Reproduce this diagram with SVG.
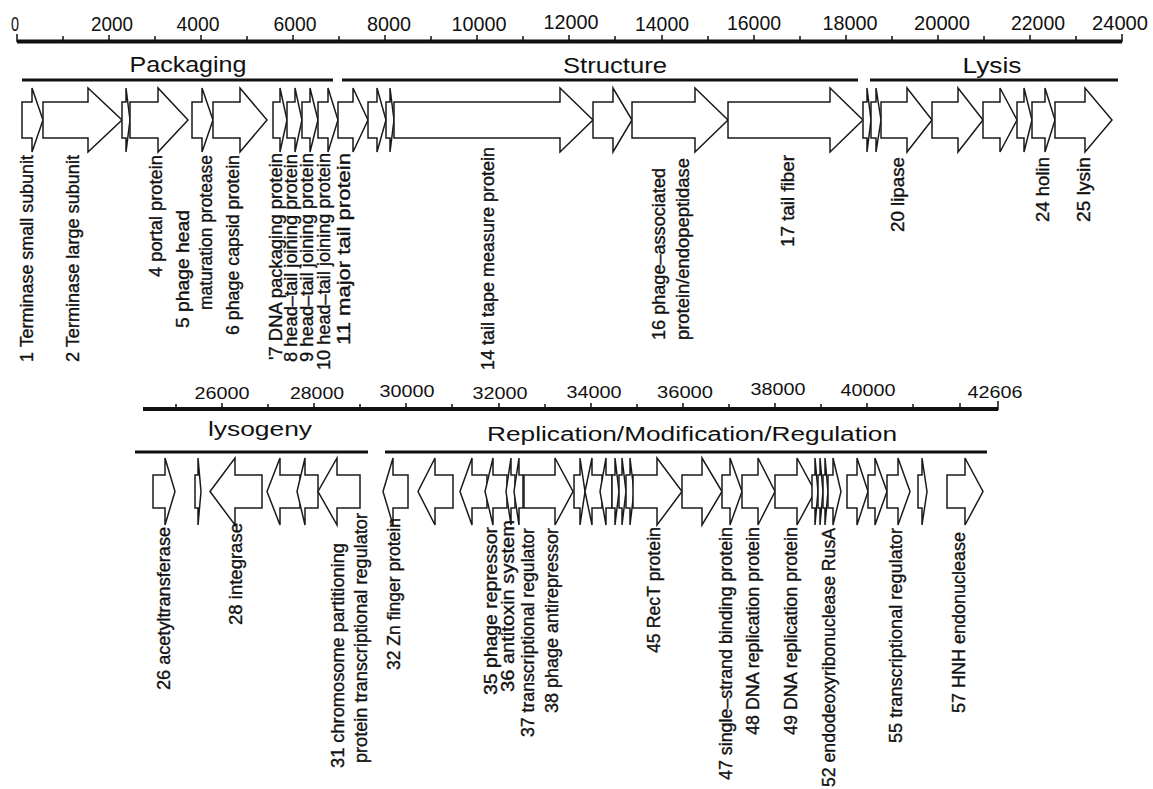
<svg xmlns="http://www.w3.org/2000/svg" width="1153" height="789" viewBox="0 0 1153 789">
<style>
.bg{fill:#fff}
.ax{stroke:#111;stroke-width:4;fill:none}
.tk{stroke:#111;stroke-width:1.5;fill:none}
.cat{stroke:#111;stroke-width:3;fill:none}
.gene{fill:#fff;stroke:#1a1a1a;stroke-width:1.5;stroke-linejoin:miter}
.num{font-family:"Liberation Sans",Arial,sans-serif;font-size:20px;fill:#111;text-anchor:middle}
.num2{font-family:"Liberation Sans",Arial,sans-serif;font-size:17px;fill:#111;text-anchor:middle}
.ct{font-family:"Liberation Sans",Arial,sans-serif;font-size:22px;fill:#111;text-anchor:middle}
.lb{font-family:"Liberation Sans",Arial,sans-serif;font-size:18px;fill:#111;stroke:#111;stroke-width:0.35}
</style>
<rect class="bg" width="1153" height="789"/>
<g id="ruler-top">
<path class="ax" d="M17,41.5 H1122"/>
<path class="tk" d="M17,34 V42 M63,36 V41 M109,35 V41 M155,36 V41 M201,35 V41 M247,36 V41 M293,35 V41 M339,36 V41 M385,35 V41 M431,36 V41 M477,35 V41 M523,36 V41 M569,35 V41 M615,36 V41 M662,35 V41 M708,36 V41 M754,35 V41 M800,36 V41 M846,35 V41 M892,36 V41 M938,35 V41 M984,36 V41 M1030,35 V41 M1076,36 V41 M1122,34 V42"/>
<text class="num" x="15" y="31" textLength="8" lengthAdjust="spacingAndGlyphs">0</text>
<text class="num" x="112" y="31" textLength="42" lengthAdjust="spacingAndGlyphs">2000</text>
<text class="num" x="198" y="31" textLength="43" lengthAdjust="spacingAndGlyphs">4000</text>
<text class="num" x="295" y="31" textLength="43" lengthAdjust="spacingAndGlyphs">6000</text>
<text class="num" x="389" y="31" textLength="44" lengthAdjust="spacingAndGlyphs">8000</text>
<text class="num" x="479" y="31" textLength="55" lengthAdjust="spacingAndGlyphs">10000</text>
<text class="num" x="571" y="29" textLength="55" lengthAdjust="spacingAndGlyphs">12000</text>
<text class="num" x="662" y="31" textLength="54" lengthAdjust="spacingAndGlyphs">14000</text>
<text class="num" x="754" y="30" textLength="54" lengthAdjust="spacingAndGlyphs">16000</text>
<text class="num" x="850" y="30" textLength="55" lengthAdjust="spacingAndGlyphs">18000</text>
<text class="num" x="942" y="30" textLength="56" lengthAdjust="spacingAndGlyphs">20000</text>
<text class="num" x="1038" y="30" textLength="54" lengthAdjust="spacingAndGlyphs">22000</text>
<text class="num" x="1120" y="30" textLength="56" lengthAdjust="spacingAndGlyphs">24000</text>
</g>
<g id="categories-top">
<path class="cat" d="M22,80 H333 M342,80 H858 M870,80 H1118"/>
<text class="ct" x="188" y="72" textLength="117" lengthAdjust="spacingAndGlyphs">Packaging</text>
<text class="ct" x="615" y="73" textLength="104" lengthAdjust="spacingAndGlyphs">Structure</text>
<text class="ct" x="992" y="73" textLength="59" lengthAdjust="spacingAndGlyphs">Lysis</text>
</g>
<g id="gene1"><path class="gene" d="M22,102 H32 V88 L43,120 L32,152 V138 H22 Z"/><text class="lb" transform="translate(33,362) rotate(-90)" textLength="207" lengthAdjust="spacingAndGlyphs">1 Terminase small subunit</text></g>
<g id="gene2"><path class="gene" d="M43,102 H88 V88 L122,120 L88,152 V138 H43 Z"/><text class="lb" transform="translate(78.5,362) rotate(-90)" textLength="207" lengthAdjust="spacingAndGlyphs">2 Terminase large subunit</text></g>
<g id="gene3"><path class="gene" d="M122,102 H126 V88 L130,120 L126,152 V138 H122 Z"/></g>
<g id="gene4"><path class="gene" d="M130,102 H158 V88 L188,120 L158,152 V138 H130 Z"/><text class="lb" transform="translate(162,277) rotate(-90)" textLength="122" lengthAdjust="spacingAndGlyphs">4 portal protein</text></g>
<g id="gene5"><path class="gene" d="M192,102 H202 V88 L213,120 L202,152 V138 H192 Z"/><text class="lb" transform="translate(188.5,328) rotate(-90)" textLength="118" lengthAdjust="spacingAndGlyphs">5 phage head</text><text class="lb" transform="translate(211.5,310) rotate(-90)" textLength="155" lengthAdjust="spacingAndGlyphs">maturation protease</text></g>
<g id="gene6"><path class="gene" d="M213,102 H240 V88 L267,120 L240,152 V138 H213 Z"/><text class="lb" transform="translate(238.5,335) rotate(-90)" textLength="180" lengthAdjust="spacingAndGlyphs">6 phage capsid protein</text></g>
<g id="gene7"><path class="gene" d="M273,102 H280 V88 L287,120 L280,152 V138 H273 Z"/><text class="lb" transform="translate(281.5,360) rotate(-90)" textLength="207" lengthAdjust="spacingAndGlyphs">'7 DNA packaging protein</text></g>
<g id="gene8"><path class="gene" d="M287,102 H295 V88 L302,120 L295,152 V138 H287 Z"/><text class="lb" transform="translate(296.5,362) rotate(-90)" textLength="208" lengthAdjust="spacingAndGlyphs">8 head–tail joining protein</text></g>
<g id="gene9"><path class="gene" d="M302,102 H310 V88 L318,120 L310,152 V138 H302 Z"/><text class="lb" transform="translate(313,362) rotate(-90)" textLength="209" lengthAdjust="spacingAndGlyphs">9 head–tail joining protein</text></g>
<g id="gene10"><path class="gene" d="M318,102 H328 V88 L338,120 L328,152 V138 H318 Z"/><text class="lb" transform="translate(329.5,370) rotate(-90)" textLength="217" lengthAdjust="spacingAndGlyphs">10 head–tail joining protein</text></g>
<g id="gene11"><path class="gene" d="M338,102 H353 V88 L368,120 L353,152 V138 H338 Z"/><text class="lb" transform="translate(349.5,345) rotate(-90)" textLength="192" lengthAdjust="spacingAndGlyphs">11 major tail protein</text></g>
<g id="gene12"><path class="gene" d="M368,102 H377 V88 L386,120 L377,152 V138 H368 Z"/></g>
<g id="gene13"><path class="gene" d="M386,102 H390 V88 L394,120 L390,152 V138 H386 Z"/></g>
<g id="gene14"><path class="gene" d="M394,102 H560 V88 L593,120 L560,152 V138 H394 Z"/><text class="lb" transform="translate(493.5,370) rotate(-90)" textLength="223" lengthAdjust="spacingAndGlyphs">14 tail tape measure protein</text></g>
<g id="gene15"><path class="gene" d="M593,102 H613 V88 L632,120 L613,152 V138 H593 Z"/></g>
<g id="gene16"><path class="gene" d="M632,102 H695 V88 L728,120 L695,152 V138 H632 Z"/><text class="lb" transform="translate(664.5,340) rotate(-90)" textLength="172" lengthAdjust="spacingAndGlyphs">16 phage–associated</text><text class="lb" transform="translate(688.5,340) rotate(-90)" textLength="182" lengthAdjust="spacingAndGlyphs">protein/endopeptidase</text></g>
<g id="gene17"><path class="gene" d="M728,102 H830 V88 L863,120 L830,152 V138 H728 Z"/><text class="lb" transform="translate(794,247) rotate(-90)" textLength="92" lengthAdjust="spacingAndGlyphs">17 tail fiber</text></g>
<g id="gene18"><path class="gene" d="M863,102 H867 V88 L871,120 L867,152 V138 H863 Z"/></g>
<g id="gene19"><path class="gene" d="M871,102 H876 V88 L881,120 L876,152 V138 H871 Z"/></g>
<g id="gene20"><path class="gene" d="M881,102 H907 V88 L932,120 L907,152 V138 H881 Z"/><text class="lb" transform="translate(903.5,232) rotate(-90)" textLength="75" lengthAdjust="spacingAndGlyphs">20 lipase</text></g>
<g id="gene21"><path class="gene" d="M932,102 H958 V88 L983,120 L958,152 V138 H932 Z"/></g>
<g id="gene22"><path class="gene" d="M983,102 H1000 V88 L1017,120 L1000,152 V138 H983 Z"/></g>
<g id="gene23"><path class="gene" d="M1017,102 H1024 V88 L1032,120 L1024,152 V138 H1017 Z"/></g>
<g id="gene24"><path class="gene" d="M1032,102 H1045 V88 L1055,120 L1045,152 V138 H1032 Z"/><text class="lb" transform="translate(1049,222) rotate(-90)" textLength="65" lengthAdjust="spacingAndGlyphs">24 holin</text></g>
<g id="gene25"><path class="gene" d="M1055,102 H1085 V88 L1112,120 L1085,152 V138 H1055 Z"/><text class="lb" transform="translate(1089.5,222) rotate(-90)" textLength="65" lengthAdjust="spacingAndGlyphs">25 lysin</text></g>
<g id="ruler-bottom">
<path class="ax" d="M143,409 H998"/>
<path class="tk" d="M176,404 V409 M222,403 V409 M268,404 V409 M314,403 V409 M360,404 V409 M406,403 V409 M452,404 V409 M499,403 V409 M545,404 V409 M591,403 V409 M637,404 V409 M683,403 V409 M729,404 V409 M775,403 V409 M821,404 V409 M867,403 V409 M913,404 V409 M960,403 V409 M998,401 V410"/>
<text class="num2" x="222" y="399" textLength="55" lengthAdjust="spacingAndGlyphs">26000</text>
<text class="num2" x="317" y="399" textLength="54" lengthAdjust="spacingAndGlyphs">28000</text>
<text class="num2" x="407" y="397" textLength="55" lengthAdjust="spacingAndGlyphs">30000</text>
<text class="num2" x="500" y="399" textLength="55" lengthAdjust="spacingAndGlyphs">32000</text>
<text class="num2" x="594" y="398" textLength="55" lengthAdjust="spacingAndGlyphs">34000</text>
<text class="num2" x="685" y="398" textLength="56" lengthAdjust="spacingAndGlyphs">36000</text>
<text class="num2" x="778" y="395" textLength="55" lengthAdjust="spacingAndGlyphs">38000</text>
<text class="num2" x="868" y="396" textLength="55" lengthAdjust="spacingAndGlyphs">40000</text>
<text class="num2" x="995" y="398" textLength="55" lengthAdjust="spacingAndGlyphs">42606</text>
</g>
<g id="categories-bottom">
<path class="cat" d="M135,452 H368 M385,452 H987"/>
<text class="ct" style="font-size:20px" x="260" y="436" textLength="104" lengthAdjust="spacingAndGlyphs">lysogeny</text>
<text class="ct" style="font-size:20px;text-anchor:start" x="487" y="441" textLength="410" lengthAdjust="spacingAndGlyphs">Replication/Modification/Regulation</text>
</g>
<g id="gene26"><path class="gene" d="M153,475 H165 V458 L175,491.5 L165,525 V508 H153 Z"/><text class="lb" transform="translate(169.5,690) rotate(-90)" textLength="163" lengthAdjust="spacingAndGlyphs">26 acetyltransferase</text></g>
<g id="gene27"><path class="gene" d="M195,475 H198 V458 L201,491.5 L198,525 V508 H195 Z"/></g>
<g id="gene28"><path class="gene" d="M262,475 H235 V458 L210,491.5 L235,525 V508 H262 Z"/><text class="lb" transform="translate(241.5,625) rotate(-90)" textLength="102" lengthAdjust="spacingAndGlyphs">28 integrase</text></g>
<g id="gene29"><path class="gene" d="M300,475 H280 V458 L267,491.5 L280,525 V508 H300 Z"/></g>
<g id="gene30"><path class="gene" d="M318,475 H305 V458 L297,491.5 L305,525 V508 H318 Z"/></g>
<g id="gene31"><path class="gene" d="M360,475 H337 V458 L318,491.5 L337,525 V508 H360 Z"/><text class="lb" transform="translate(343.5,768) rotate(-90)" textLength="225" lengthAdjust="spacingAndGlyphs">31 chromosome partitioning</text><text class="lb" transform="translate(366.5,763) rotate(-90)" textLength="250" lengthAdjust="spacingAndGlyphs">protein transcriptional regulator</text></g>
<g id="gene32"><path class="gene" d="M408,475 H393 V458 L383,491.5 L393,525 V508 H408 Z"/><text class="lb" transform="translate(399.5,670) rotate(-90)" textLength="152" lengthAdjust="spacingAndGlyphs">32 Zn finger protein</text></g>
<g id="gene33"><path class="gene" d="M453,475 H435 V458 L418,491.5 L435,525 V508 H453 Z"/></g>
<g id="gene34"><path class="gene" d="M487,475 H472 V458 L460,491.5 L472,525 V508 H487 Z"/></g>
<g id="gene35"><path class="gene" d="M507,475 H493 V458 L485,491.5 L493,525 V508 H507 Z"/><text class="lb" transform="translate(496.5,695) rotate(-90)" textLength="168" lengthAdjust="spacingAndGlyphs">35 phage repressor</text></g>
<g id="gene36"><path class="gene" d="M515,475 H511 V458 L506,491.5 L511,525 V508 H515 Z"/><text class="lb" transform="translate(513.5,692) rotate(-90)" textLength="172" lengthAdjust="spacingAndGlyphs">36 antitoxin system</text></g>
<g id="gene37"><path class="gene" d="M523,475 H519 V458 L514,491.5 L519,525 V508 H523 Z"/><text class="lb" transform="translate(533.5,737) rotate(-90)" textLength="209" lengthAdjust="spacingAndGlyphs">37 transcriptional regulator</text></g>
<g id="gene38"><path class="gene" d="M524,475 H555 V458 L573,491.5 L555,525 V508 H524 Z"/><text class="lb" transform="translate(558,713) rotate(-90)" textLength="185" lengthAdjust="spacingAndGlyphs">38 phage antirepressor</text></g>
<g id="gene39"><path class="gene" d="M574,475 H580 V458 L585,491.5 L580,525 V508 H574 Z"/></g>
<g id="gene40"><path class="gene" d="M602,475 H592 V458 L585,491.5 L592,525 V508 H602 Z"/></g>
<g id="gene41"><path class="gene" d="M612,475 H606 V458 L600,491.5 L606,525 V508 H612 Z"/></g>
<g id="gene42"><path class="gene" d="M612,475 H615 V458 L619,491.5 L615,525 V508 H612 Z"/></g>
<g id="gene43"><path class="gene" d="M619,475 H622 V458 L626,491.5 L622,525 V508 H619 Z"/></g>
<g id="gene44"><path class="gene" d="M626,475 H630 V458 L634,491.5 L630,525 V508 H626 Z"/></g>
<g id="gene45"><path class="gene" d="M633,475 H657 V458 L682,491.5 L657,525 V508 H633 Z"/><text class="lb" transform="translate(659.5,653) rotate(-90)" textLength="126" lengthAdjust="spacingAndGlyphs">45 RecT protein</text></g>
<g id="gene46"><path class="gene" d="M682,475 H702 V458 L722,491.5 L702,525 V508 H682 Z"/></g>
<g id="gene47"><path class="gene" d="M722,475 H730 V458 L742,491.5 L730,525 V508 H722 Z"/><text class="lb" transform="translate(731.5,780) rotate(-90)" textLength="253" lengthAdjust="spacingAndGlyphs">47 single–strand binding protein</text></g>
<g id="gene48"><path class="gene" d="M742,475 H758 V458 L775,491.5 L758,525 V508 H742 Z"/><text class="lb" transform="translate(758.5,735) rotate(-90)" textLength="208" lengthAdjust="spacingAndGlyphs">48 DNA replication protein</text></g>
<g id="gene49"><path class="gene" d="M775,475 H797 V458 L815,491.5 L797,525 V508 H775 Z"/><text class="lb" transform="translate(796.5,735) rotate(-90)" textLength="208" lengthAdjust="spacingAndGlyphs">49 DNA replication protein</text></g>
<g id="gene50"><path class="gene" d="M812,475 H815 V458 L818,491.5 L815,525 V508 H812 Z"/></g>
<g id="gene51"><path class="gene" d="M818,475 H820 V458 L823,491.5 L820,525 V508 H818 Z"/></g>
<g id="gene52"><path class="gene" d="M823,475 H825 V458 L828,491.5 L825,525 V508 H823 Z"/><text class="lb" transform="translate(834.5,787) rotate(-90)" textLength="259" lengthAdjust="spacingAndGlyphs">52 endodeoxyribonuclease RusA</text></g>
<g id="gene53"><path class="gene" d="M828,475 H833 V458 L841,491.5 L833,525 V508 H828 Z"/></g>
<g id="gene54"><path class="gene" d="M847,475 H857 V458 L868,491.5 L857,525 V508 H847 Z"/></g>
<g id="gene54b"><path class="gene" d="M868,475 H875 V458 L887,491.5 L875,525 V508 H868 Z"/></g>
<g id="gene55"><path class="gene" d="M887,475 H898 V458 L910,491.5 L898,525 V508 H887 Z"/><text class="lb" transform="translate(901.5,743) rotate(-90)" textLength="215" lengthAdjust="spacingAndGlyphs">55 transcriptional regulator</text></g>
<g id="gene56"><path class="gene" d="M918,475 H922 V458 L927,491.5 L922,525 V508 H918 Z"/></g>
<g id="gene57"><path class="gene" d="M947,475 H965 V458 L983,491.5 L965,525 V508 H947 Z"/><text class="lb" transform="translate(965,713) rotate(-90)" textLength="181" lengthAdjust="spacingAndGlyphs">57 HNH endonuclease</text></g>
</svg>
